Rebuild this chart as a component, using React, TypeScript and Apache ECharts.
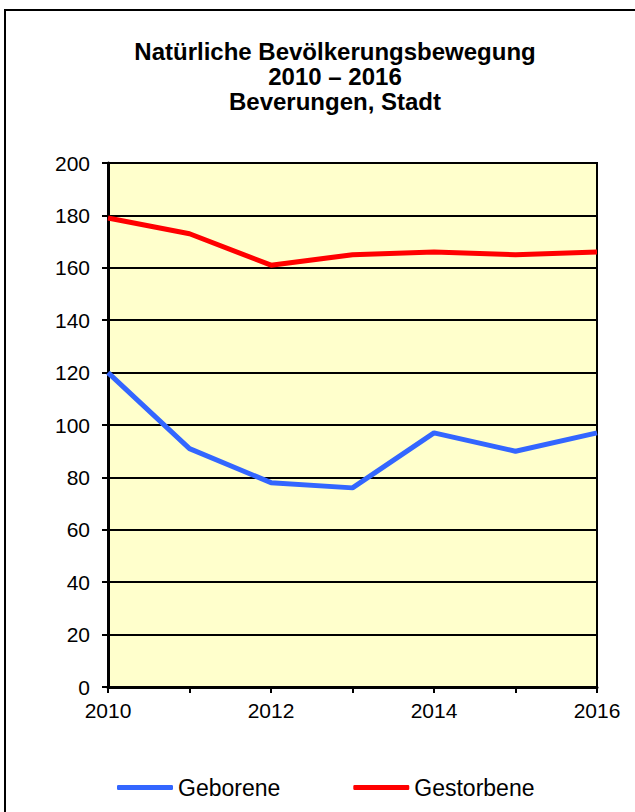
import React, { useEffect, useRef } from "react";
import * as echarts from "echarts";

const years = ["2010", "2011", "2012", "2013", "2014", "2015", "2016"];
const geborene = [120, 91, 78, 76, 97, 90, 97];
const gestorbene = [179, 173, 161, 165, 166, 165, 166];
const titleLines = ["Natürliche Bevölkerungsbewegung", "2010 – 2016", "Beverungen, Stadt"];

const FONT = "'Liberation Sans', Arial, sans-serif";

export default function App() {
  const ref = useRef<HTMLDivElement>(null);
  useEffect(() => {
    if (!ref.current) return;
    const chart = echarts.init(ref.current, null, { renderer: "svg" });
    chart.setOption({
      animation: false,
      backgroundColor: "#ffffff",
      textStyle: { fontFamily: FONT },
      title: {
        text: titleLines.join("\n"),
        left: 335,
        top: 39,
        textAlign: "center",
        padding: 0,
        textStyle: {
          fontFamily: FONT,
          fontWeight: "bold",
          fontSize: 24,
          lineHeight: 25,
          color: "#000",
        },
      },
      graphic: [
        {
          type: "rect",
          shape: { x: 5, y: 10, width: 700, height: 900 },
          style: { fill: "none", stroke: "#000", lineWidth: 2 },
          silent: true,
        },
      ],
      legend: {
        left: 117,
        top: 776,
        padding: 0,
        itemWidth: 56,
        itemHeight: 5,
        itemGap: 73,
        icon: "roundRect",
        textStyle: { fontFamily: FONT, fontSize: 23, color: "#000", padding: [0, 0, 0, 0] },
        data: ["Geborene", "Gestorbene"],
      },
      grid: {
        left: 108,
        top: 163,
        right: 38,
        bottom: 125,
        show: true,
        backgroundColor: "#FFFFCC",
        borderColor: "#000",
        borderWidth: 2,
        containLabel: false,
      },
      xAxis: {
        type: "category",
        data: years,
        boundaryGap: false,
        axisLine: { show: true, lineStyle: { color: "#000", width: 3 } },
        axisTick: { show: true, interval: 0, length: 6, lineStyle: { color: "#000", width: 2 } },
        axisLabel: { interval: 1, fontSize: 21, color: "#000", margin: 13, fontFamily: FONT },
        splitLine: { show: false },
      },
      yAxis: {
        type: "value",
        min: 0,
        max: 200,
        interval: 20,
        axisLine: { show: true, lineStyle: { color: "#000", width: 3 } },
        axisTick: { show: true, length: 6, lineStyle: { color: "#000", width: 2 } },
        axisLabel: { fontSize: 21, color: "#000", margin: 18, fontFamily: FONT },
        splitLine: { show: true, lineStyle: { color: "#000", width: 2 } },
      },
      series: [
        {
          name: "Geborene",
          type: "line",
          data: geborene,
          symbol: "none",
          color: "#3366FF",
          lineStyle: { color: "#3366FF", width: 5 },
          itemStyle: { color: "#3366FF" },
        },
        {
          name: "Gestorbene",
          type: "line",
          data: gestorbene,
          symbol: "none",
          color: "#FF0000",
          lineStyle: { color: "#FF0000", width: 5 },
          itemStyle: { color: "#FF0000" },
        },
      ],
    });
    return () => chart.dispose();
  }, []);
  return (
    <div
      ref={ref}
      style={{ position: "absolute", left: 0, top: 0, width: 635, height: 812 }}
    />
  );
}
